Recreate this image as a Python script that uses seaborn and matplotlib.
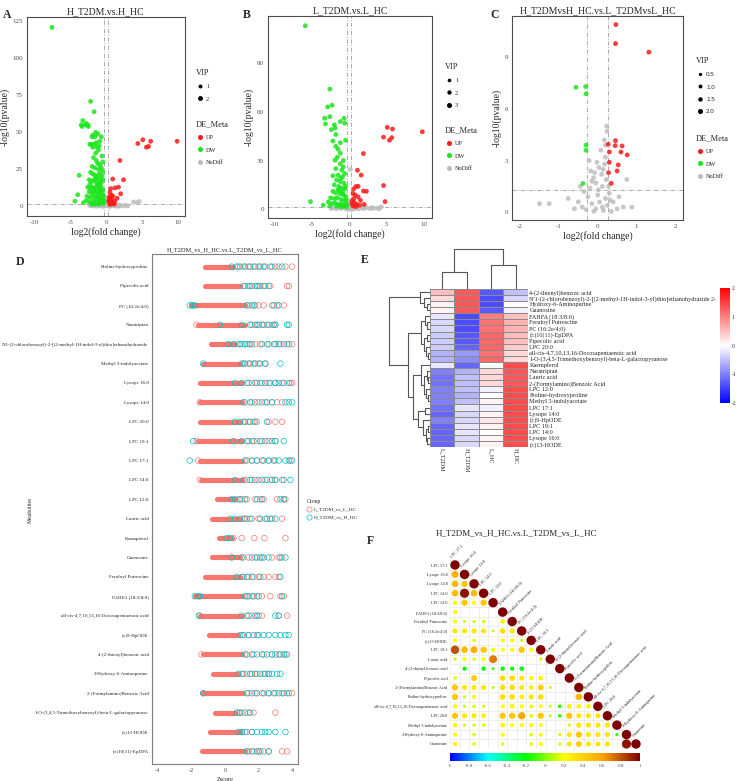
import numpy as np
import pandas as pd
import matplotlib
matplotlib.use("Agg")
import matplotlib.pyplot as plt
import seaborn as sns
from matplotlib.colors import LinearSegmentedColormap, Normalize
from matplotlib.lines import Line2D
from matplotlib.cm import ScalarMappable

# ---------------- data: volcano A (H_T2DM vs H_HC) ----------------
a_up_x = [4.4, 5.1, 5.6, 5.9, 6.2, 9.9, 1.9, 0.9, 2.4, 1.7, 0.6, 1.2, 2.0, 0.5, 0.9, 1.5, 0.6, 0.8, 1.2,
          0.5, 0.7, 1.0, 0.4, 0.6, 0.9, 0.5, 0.7, 0.4, 0.5, 0.8, 1.1, 0.35]
a_up_y = [42.5, 45.0, 40.0, 40.5, 44.0, 44.0, 31.0, 18.5, 18.0, 13.0, 12.0, 12.5, 8.5, 9.5, 7.0, 5.5, 6.0, 4.5, 3.5,
          4.0, 2.5, 2.0, 3.0, 1.5, 1.8, 5.0, 7.5, 6.5, 1.4, 2.8, 1.6, 3.6]
a_dw_x = [-7.6, -2.2, -1.7, -3.3, -3.5, -3.4, -2.8, -2.6, -2.5, -2.9, -1.5, -1.2, -2.0, -1.9, -1.6, -2.3, -2.1,
          -1.7, -1.4, -0.9, -1.0, -1.3, -1.9, -0.7, -1.1, -0.6, -1.5, -1.8, -1.4, -1.2, -0.9, -2.0, -1.6, -1.1,
          -0.7, -0.5, -3.8, -2.2, -1.9, -1.6, -1.3, -1.0, -0.8, -0.6, -2.4, -2.0, -1.7, -1.4, -1.1, -0.7, -0.5,
          -2.3, -0.9, -2.6, -2.2, -1.9, -1.6, -1.3, -1.0, -0.7, -0.5, -2.4, -2.0, -1.7, -1.4, -1.1, -0.8, -0.5,
          -2.7, -2.3, -1.9, -1.5, -1.2, -0.9, -0.6, -0.4, -4.4, -3.2, -2.8, -2.4, -2.1, -1.8, -1.5, -1.2, -0.9,
          -0.6, -0.4, -1.6, -2.0, -1.0, -0.35, -4.0, -1.25, -0.85, -0.55, -1.45, -0.75, -1.05]
a_dw_y = [121.0, 71.0, 64.0, 58.0, 55.0, 54.0, 56.0, 55.0, 54.0, 55.0, 50.0, 49.0, 47.0, 48.0, 47.0, 42.0, 42.0,
          42.0, 43.0, 44.0, 41.0, 40.0, 40.0, 47.0, 38.0, 34.0, 36.0, 33.0, 31.0, 29.0, 28.0, 27.0, 26.0, 25.0,
          26.0, 30.0, 21.0, 23.0, 22.0, 21.0, 20.0, 22.0, 19.0, 21.0, 18.0, 17.0, 18.0, 16.0, 17.0, 16.0, 18.0,
          15.0, 15.0, 13.0, 12.0, 13.0, 12.0, 13.0, 12.0, 13.0, 11.0, 10.0, 9.0, 10.0, 9.0, 10.0, 9.0, 8.0,
          7.0, 6.0, 7.0, 6.0, 7.0, 6.0, 5.0, 7.0, 3.5, 2.5, 4.0, 3.0, 2.0, 4.0, 3.0, 2.0, 4.0,
          3.0, 2.0, 1.6, 1.5, 1.5, 4.0, 7.9, 14.0, 11.0, 24.0, 19.0, 10.5, 5.0]
a_nd_x = [-2.3, -2.0, -1.7, -1.5, -1.2, -1.0, -0.8, -0.6, -0.4, -0.2, 0.0, 0.1, 0.2, 0.3, -0.1, 0.4, 0.6, 0.8,
          1.0, 1.2, 1.4, 1.7, 2.0, 2.4, -0.3, 0.1, 0.0, 0.2, -0.15, 3.8, 4.3, 4.6, 3.0, 2.7, -0.5, 0.5, -1.3,
          1.5, -0.7, 0.9, 1.8, -1.9, 0.3, -0.05]
a_nd_y = [0.5, 1.0, 0.3, 0.8, 1.2, 0.4, 0.9, 0.2, 1.1, 0.6, 0.3, 1.0, 0.5, 1.2, 1.5, 0.2, 0.7, 0.4,
          0.9, 0.3, 0.6, 0.2, 0.5, 0.3, 2.5, 3.0, 4.5, 2.0, 3.5, 3.0, 2.6, 3.3, 0.4, 0.8, 0.05, 0.05, 0.1,
          0.1, 1.8, 1.6, 1.0, 0.2, 2.2, 5.5]

# ---------------- data: volcano B (L_T2DM vs L_HC) ----------------
b_up_x = [5.1, 5.8, 4.6, 5.7, 5.4, 9.8, 1.9, 1.1, 1.6, 4.6, 0.9, 1.2, 1.9, 2.3, 0.5, 0.8, 1.2, 0.6, 0.4,
          0.7, 1.0, 1.4, 0.5, 0.9, 4.8, 0.6, 1.5, 0.35, 2.0]
b_up_y = [50.4, 49.4, 44.4, 44.1, 42.5, 47.7, 34.3, 24.0, 21.0, 14.6, 14.0, 14.1, 11.2, 11.0, 9.7, 8.7, 7.6, 6.5, 5.0,
          4.0, 3.0, 2.5, 2.0, 1.6, 4.7, 12.5, 5.5, 3.5, 3.0]
b_dw_x = [-5.9, -2.6, -2.9, -2.3, -3.3, -2.6, -3.2, -2.0, -1.9, -0.7, -1.2, -0.6, -2.4, -1.8, -2.2, -1.2, -0.5,
          -1.8, -1.5, -1.2, -1.6, -1.9, -1.2, -0.8, -1.8, -1.0, -2.2, -1.5, -0.9, -0.6, -1.7, -1.2, -0.7, -2.0,
          -1.4, -1.0, -0.6, -1.5, -2.2, -1.8, -1.2, -0.8, -0.5, -2.5, -2.0, -1.6, -1.1, -0.7, -0.4, -2.8, -2.3,
          -1.9, -1.4, -1.0, -0.6, -0.4, -5.2, -3.5, -1.7, -1.2, -0.8, -2.6, -0.35, -1.3, -0.9, -0.5, -1.1, -0.8]
b_dw_y = [113.0, 74.0, 63.0, 64.0, 56.0, 57.0, 52.5, 52.0, 50.0, 56.0, 54.0, 53.0, 49.0, 46.0, 42.0, 41.0, 42.5,
          38.7, 37.0, 34.5, 32.0, 30.2, 28.0, 30.0, 25.0, 24.0, 20.6, 21.0, 20.0, 22.0, 18.0, 17.0, 16.0, 15.0,
          14.0, 13.0, 12.5, 12.3, 11.0, 10.0, 9.5, 9.0, 8.0, 7.0, 6.5, 7.0, 6.0, 5.5, 6.0, 4.5, 3.5,
          4.0, 3.0, 3.5, 2.5, 3.5, 4.7, 2.5, 2.0, 1.6, 1.8, 2.0, 1.5, 11.5, 10.5, 14.0, 19.0, 26.0]
b_nd_x = [0.15, -2.4, -2.0, -1.7, -1.4, -1.1, -0.8, -0.5, -0.2, 0.0, 0.2, 0.4, 0.6, 0.9, 1.2, 1.5, 1.9, 2.3,
          2.8, 3.3, 3.8, 4.3, -0.3, 0.1, 0.3, -0.1, 0.05, 0.25, -0.6, 0.7, 1.0, -1.0, 2.0, 3.0, 4.0, -1.5, 0.5,
          -0.15, 0.15]
b_nd_y = [24.5, 0.4, 0.8, 0.3, 1.0, 0.5, 1.2, 0.2, 0.9, 0.4, 1.1, 0.3, 0.8, 0.5, 0.3, 0.7, 0.4, 0.9,
          0.3, 0.6, 0.8, 1.5, 2.5, 3.2, 2.0, 4.5, 1.8, 5.5, 2.2, 1.6, 2.1, 1.8, 1.3, 1.1, 0.3, 2.0, 0.1,
          0.1, 0.05]

# ---------------- data: volcano C ----------------
c_up_x = [0.47, 0.46, 1.32, 0.46, 0.27, 0.45, 0.63, 0.30, 0.60, 0.76, 0.30, 0.53, 0.50, 0.28, 0.35]
c_up_y = [10.9, 9.8, 9.3, 4.16, 3.95, 3.87, 3.85, 3.5, 3.5, 3.33, 2.9, 2.75, 2.4, 2.3, 1.68]
c_dw_x = [-0.56, -0.31, -0.30, -0.30, -0.30, -0.38]
c_dw_y = [7.26, 7.3, 6.88, 3.9, 3.6, 1.67]
c_nd_x = [0.23, 0.24, 0.17, 0.20, -0.22, 0.03, -0.11, -0.15, -0.05, 0.10, 0.18, 0.20, 0.75, 0.12, -0.20,
          -0.35, -1.50, -1.25, -0.76, 0.66, 0.88, -0.50, -0.40, -0.25, -0.15, -0.05, 0.00, 0.05, 0.12, 0.20,
          0.25, 0.30, 0.40, 0.50, -0.10, 0.15, -0.30, 0.35, -0.60, 0.55, 0.02, 0.22, -0.08, 0.28, -0.45,
          0.08, -0.02, 0.14, -0.18, 0.32]
c_nd_y = [5.0, 4.7, 4.2, 3.9, 3.0, 2.6, 2.0, 1.8, 1.7, 2.2, 2.8, 3.2, 1.9, 1.5, 1.4,
          1.2, 0.5, 0.5, 0.8, 0.3, 0.3, 0.6, 0.3, 0.9, 0.5, 0.2, 1.0, 0.6, 0.3, 0.8,
          0.4, 1.1, 0.6, 0.2, 0.05, 0.1, 0.15, 0.05, 0.2, 0.9, 1.3, 1.9, 2.3, 1.5, 1.5,
          3.6, 2.9, 2.5, 2.4, 0.7]

# ---------------- data: panel D (z-scores) ----------------
d_metabolites = ["Proline-hydroxyproline", "Pipecolic acid", "PC (16:2e/4:0)", "Naratriptan",
                 "N'1-(2-chlorobenzoyl)-2-[(2-methyl-1H-indol-3-yl)thio]ethanohydrazide",
                 "Methyl 3-indolyacetate", "Lysope 16:0", "Lysope 14:0", "LPC 20:0", "LPC 19:1", "LPC 17:1",
                 "LPC 14:0", "LPC 12:0", "Lauric acid", "Kaempferol", "Guanosine", "Feruloyl Putrescine",
                 "FAHFA (18:3/8:0)", "all-cis-4,7,10,13,16-Docosapentaenoic acid", "(\u00b1)9-HpODE",
                 "4-(2-thienyl)benzoic acid", "2-Hydroxy-6-Aminopurine", "2-(Formylamino)Benzoic Acid",
                 "1-O-(3,4,5-Trimethoxybenzoyl)-beta-L-galactopyranose", "(\u00b1)13-HODE", "(\u00b1)10(11)-EpDPA"]
d_core_lo = [-1.2, -1.2, -2.0, -1.6, -0.85, -1.3, -1.5, -1.5, -1.5, -1.6, -1.5, -1.45, -0.5, -0.75, -0.35,
             -0.75, -1.2, -1.8, -1.5, -0.95, -1.3, -0.7, -1.3, -0.6, -0.9, -1.35]
d_core_hi = [0.5, 0.9, 1.2, 1.2, 0.6, 0.9, 1.0, 1.0, 0.9, 1.0, 1.0, 1.0, 0.6, 0.9, 0.4,
             0.9, 0.9, 1.0, 1.0, 0.8, 1.0, 0.8, 1.1, 0.6, 0.9, 1.2]
d_red = [[0.8, 1.1, 1.4, 1.7, 2.0, 2.4, 2.8, 3.2, 3.6, 4.0],
         [1.2, 1.5, 1.8, 2.1, 2.4, 2.7, 3.7, 3.8],
         [1.4, 1.7, 2.0, 2.3, 2.8, 3.1, 3.5],
         [-1.7, 1.6, 1.9, 2.2, 2.5, 2.8, 3.0],
         [0.9, 1.2, 1.5, 1.8, 2.1, 2.5, 2.9, 3.3, 3.7, 4.0],
         [1.1, 1.4, 1.7, 2.0, 2.4],
         [1.3, 1.6, 1.9, 2.2, 2.6, 3.0, 3.4, 3.9, 4.0],
         [-1.5, 1.2, 1.6, 2.0, 2.4, 2.8, 3.1, 3.4],
         [1.1, 1.4, 1.7, 1.9, 2.6, 3.0, 3.4],
         [-1.7, 1.3, 1.6, 1.9, 2.2, 2.6, 3.0],
         [-1.6, 1.3, 1.6, 1.9, 2.2, 2.6, 3.0, 3.9],
         [-1.5, 1.3, 1.6, 2.0, 2.4, 2.8, 3.0, 3.4],
         [0.8, 1.0, 1.3, 1.8, 2.1, 2.3, 3.1, 3.5, 3.6],
         [1.1, 1.3, 1.6, 2.0, 2.4, 2.8, 3.4],
         [0.5, 1.0, 1.75, 2.35, 3.6],
         [1.1, 1.4, 1.8, 2.2, 2.8, 3.2, 3.4],
         [1.1, 1.4, 1.7, 2.0, 2.3, 2.6, 3.0, 3.2],
         [1.3, 1.6, 1.9, 2.2, 2.7, 3.3, 3.5],
         [-1.5, 1.3, 1.6, 1.9, 2.2, 3.2, 3.7],
         [1.0, 1.4, 1.9],
         [-1.4, 1.3, 1.7, 2.3, 2.8, 3.2, 3.6],
         [1.0, 1.3, 1.6, 1.9, 2.3, 2.6],
         [-1.3, 1.4, 1.8, 2.2, 2.6, 3.0, 3.4, 3.7, 4.0],
         [0.8, 1.0, 1.4, 1.7, 3.0],
         [1.0, 1.3, 1.6],
         [1.4, 1.7, 2.0, 2.3, 2.6, 3.4, 3.7]]
d_cyan = [[0.4, 0.7, 0.9, 1.2, 1.5, 1.8, 2.1, 2.3, 2.7, 3.0, 3.4],
          [1.1, 1.4, 1.6, 1.9, 2.0, 2.3, 2.6],
          [-2.1, -1.95, -1.8, 1.3, 1.6, 1.8, 2.9, 3.2],
          [-0.3, 1.0, 1.5, 1.8, 2.0, 2.3, 2.6, 2.9, 3.0, 3.7, 3.8],
          [0.2, 0.5, 0.8, 1.0, 1.2, 1.4, 1.6, 2.2, 2.6, 3.0, 3.2, 3.5, 3.8],
          [-1.3, 1.0, 1.2, 1.5, 1.8, 2.1, 2.4, 3.3],
          [0.6, 1.0, 1.4, 1.8, 2.1, 2.4, 2.7, 3.0, 3.2, 3.5, 3.8],
          [1.1, 1.5, 1.8, 2.2, 2.5, 2.8, 3.6, 3.8, 4.0],
          [0.6, 0.9, 1.2, 1.5, 1.8, 2.5],
          [-1.9, 0.5, 1.0, 1.4, 1.7, 2.1, 2.4, 2.8, 3.0, 3.5],
          [-2.1, 1.2, 1.6, 1.9, 2.3, 2.6, 2.9, 3.2, 3.6, 3.8, 4.0],
          [0.6, 1.1, 1.5, 1.8, 2.2, 2.5, 2.8, 3.0, 3.5, 3.9],
          [0.4, 0.6, 0.9, 1.2, 1.9, 2.2, 3.3, 3.5],
          [0.3, 0.6, 0.9, 1.2, 1.5, 2.1, 2.5, 2.7, 3.0],
          [0.1, 0.3],
          [0.4, 1.0, 1.6, 1.9, 2.1, 2.3, 2.6, 3.3, 3.6],
          [0.7, 1.0, 1.3, 1.6, 2.1, 3.3],
          [-1.8, -1.6, -1.5, 1.2, 1.4, 1.7, 2.0, 3.4],
          [-1.55, 1.0, 1.4, 1.8, 2.0, 3.0, 3.2],
          [0.9, 1.1, 1.4, 1.7, 2.0, 2.3, 2.6, 3.0, 3.3, 3.6, 3.8],
          [1.2, 1.6, 1.9, 2.2, 2.5, 2.8, 3.0, 3.3, 3.5, 3.7],
          [0.8, 1.1, 1.5, 1.8, 2.1, 2.4, 2.6, 2.8, 3.1, 3.3],
          [-1.3, 1.3, 1.6, 1.9, 2.3, 2.6, 2.9, 3.2, 3.5, 3.8],
          [0.7, 0.9, 1.2, 1.5],
          [0.8, 1.0, 1.2, 1.6, 1.9, 2.2, 2.4, 2.6, 3.0, 3.6],
          [1.3, 1.6, 1.9, 2.1, 2.6]]

# ---------------- data: panel E (heatmap) ----------------
e_columns = ["L_T2DM", "H_T2DM", "L_HC", "H_HC"]
e_rows = ["4-(2-thienyl)benzoic acid",
          "N'1-(2-chlorobenzoyl)-2-[(2-methyl-1H-indol-3-yl)thio]ethanohydrazide 2-",
          "Hydroxy-6-Aminopurine", "Guanosine", "FAHFA (18:3/8:0)", "Feruloyl Putrescine", "PC (16:2e/4:0)",
          "(\u00b1)10(11)-EpDPA", "Pipecolic acid", "LPC 20:0", "all-cis-4,7,10,13,16-Docosapentaenoic acid",
          "1-O-(3,4,5-Trimethoxybenzoyl)-beta-L-galactopyranose", "Kaempferol", "Naratriptan", "Lauric acid",
          "2-(Formylamino)Benzoic Acid", "LPC 12:0", "Proline-hydroxyproline", "Methyl 3-indolyacetate",
          "LPC 17:1", "Lysope 14:0", "(\u00b1)9-HpODE", "LPC 19:1", "LPC 14:0", "Lysope 16:0", "(\u00b1)13-HODE"]
e_values = [[0.5, 1.3, -1.3, -0.5], [0.3, 1.3, -1.4, -0.3], [0.1, 1.3, -1.4, 0.0], [0.1, 1.3, -1.3, -0.1],
            [-0.2, -1.4, 1.0, 0.5], [-0.3, -1.4, 1.1, 0.6], [-0.3, -1.4, 1.1, 0.6], [-0.4, -1.3, 1.2, 0.5],
            [-0.4, -1.3, 1.2, 0.5], [-0.4, -1.2, 1.2, 0.4], [-0.6, -0.8, 1.1, 0.3], [-0.6, -0.9, 1.2, 0.3],
            [-0.2, -1.2, 0.0, 1.4], [-1.0, -0.6, 0.3, 1.3], [-1.1, -0.5, 0.3, 1.3], [-1.1, -0.5, 0.3, 1.3],
            [-1.0, -0.5, -0.1, 1.4], [-1.0, -0.6, 0.0, 1.4], [-1.0, -0.5, 0.1, 1.4], [-1.1, -0.2, -0.1, 1.4],
            [-1.2, -0.3, 0.1, 1.4], [-1.0, -0.3, 0.2, 1.4], [-1.2, -0.2, 0.1, 1.4], [-1.2, -0.2, 0.0, 1.4],
            [-1.2, -0.3, 0.1, 1.4], [-1.2, -0.3, 0.1, 1.4]]
# cluster trees: (height, left, right) or leaf index
e_row_tree = (40, (10, 0, (6, 1, (3, 2, 3))),
              (21, (9, (5, 4, (3, 5, 6)), (6, (3, 7, 8), (4, 9, (2, 10, 11)))),
               (17, (9, 12, (6, (3, 13, (2, 14, 15)), (4, 16, (2, 17, 18)))),
                (12, (5, 19, 20), (7, 21, (4, (2, 22, 23), (3, 24, 25)))))))
e_col_tree = (40, (17, 0, 1), (24, 2, 3))

# ---------------- data: panel F (correlation, lower triangle) ----------------
f_names = ["LPC 17:1", "Lysope 16:0", "Lysope 14:0", "LPC 14:0", "LPC 12:0", "FAHFA (18:3/8:0)",
           "Feruloyl Putrescine", "PC (16:2e/4:0)", "(\u00b1)13-HODE", "LPC 19:1", "Lauric acid",
           "4-(2-thienyl)benzoic acid", "Pipecolic acid", "2-(Formylamino)Benzoic Acid", "Proline-hydroxyproline",
           "all-cis-4,7,10,13,16-Docosapentaenoic acid", "LPC 20:0", "Methyl 3-indolyacetate",
           "2-Hydroxy-6-Aminopurine", "Guanosine"]
f_corr = [[1],
          [0.55, 1],
          [0.5, 0.45, 1],
          [0.5, 0.95, 0.5, 1],
          [0.22, 0.45, 0.2, 0.45, 1],
          [0.2, 0, 0, 0, 0, 1],
          [0.2, 0.12, 0.12, 0.12, 0, 0.25, 1],
          [0.3, 0.3, 0.3, 0.3, 0.1, 0.35, 0.3, 1],
          [0.2, 0, 0.15, 0, 0, 0.2, 0.2, 0.12, 1],
          [0.8, 0.5, 0.55, 0.45, 0.2, 0.2, 0.2, 0.45, 0.2, 1],
          [0.12, 0.2, 0.12, 0.2, 0.7, 0, 0, 0, 0, 0.12, 1],
          [0, -0.2, 0, -0.22, -0.1, -0.22, -0.2, -0.25, 0, 0, 0, 1],
          [0.15, 0, 0.4, 0, 0, 0.35, 0.35, 0.3, 0.2, 0.25, 0, 0, 1],
          [0.45, 0.3, 0.3, 0.3, 0.1, 0.35, 0.35, 0.3, 0.25, 0.4, 0.1, 0, 0, 1],
          [0.45, 0.12, 0.2, 0, 0, 0.35, 0.35, 0.25, 0.3, 0.35, 0, 0, 0, 0.5, 1],
          [0.2, 0.12, 0.15, 0.1, 0, 0.2, 0.25, 0.2, 0.15, 0.2, 0.1, -0.15, 0.25, 0.25, 0.25, 1],
          [0.45, 0.3, 0.3, 0.25, 0, 0.45, 0.45, 0.6, 0.15, 0.45, 0.1, -0.15, 0.45, 0.3, 0.3, 0.3, 1],
          [0.25, 0.12, 0.12, 0.12, 0, 0.25, 0.2, 0.2, 0.2, 0.2, 0, 0, 0.12, 0.3, 0.3, 0.3, 0.3, 1],
          [0.2, 0, 0.15, 0, 0, 0.2, 0, 0, 0.15, 0.2, 0, 0.12, 0.3, 0.45, 0.3, 0.3, 0.3, -0.12, 1],
          [0.2, 0, 0.15, 0, 0, 0.15, 0, 0, 0.15, 0.2, 0, 0.12, 0.3, 0.4, 0.3, 0.3, 0.3, 0, 0.95, 1]]

# ---------------- layout ----------------
W, H = 738, 781
sns.set_theme(style="white")
plt.rcParams['font.family'] = ['Liberation Serif', 'DejaVu Serif']
plt.rcParams['axes.unicode_minus'] = False
fig = plt.figure(figsize=(W / 100, H / 100), dpi=100)


def px_axes(x0, y0, x1, y1):
    return fig.add_axes([x0 / W, 1 - y1 / H, (x1 - x0) / W, (y1 - y0) / H])


def ftext(x, y, s, **kw):
    fig.text(x / W, 1 - y / H, s, **kw)


GREY = "#4D4D4D"
de_colors = {"UP": "#FF1A1A", "DW": "#1AE51A", "NoDiff": "#BDBDBD"}


def volcano(box, title, up, dw, nd, xlim, ylim, xticks, yticks, leg_x, vip_y, vip_labels, vip_ms, de_y, vip_font):
    ax = px_axes(*box)
    frames = []
    for lab, (xs, ys) in zip(["NoDiff", "DW", "UP"], [nd, dw, up]):
        frames.append(pd.DataFrame({"log2fc": xs, "logp": ys, "DE_Meta": lab}))
    df = pd.concat(frames, ignore_index=True)
    sns.scatterplot(data=df, x="log2fc", y="logp", hue="DE_Meta", palette=de_colors, s=12,
                    linewidth=0, alpha=0.85, legend=False, ax=ax)
    dash = (0, (5, 2, 1, 2))
    ax.axhline(1.3, color="#9E9E9E", lw=0.6, ls=dash, zorder=0)
    for v in (-0.263, 0.263):
        ax.axvline(v, color="#9E9E9E", lw=0.6, ls=dash, zorder=0)
    ax.set_xlim(*xlim)
    ax.set_ylim(*ylim)
    ax.set_xticks(xticks)
    ax.set_yticks(yticks)
    ax.tick_params(length=2, width=0.5, labelsize=5, colors=GREY, pad=1)
    for sp in ax.spines.values():
        sp.set_color(GREY)
        sp.set_linewidth(0.8)
    ax.set_xlabel("log2(fold change)", fontsize=7, labelpad=1)
    ax.set_ylabel("-log10(pvalue)", fontsize=7, labelpad=2)
    ax.set_title(title, fontsize=7, pad=2)
    # legends
    h_vip = [Line2D([], [], marker="o", ls="", color="black", markersize=m) for m in vip_ms]
    lg = fig.legend(h_vip, vip_labels, title="VIP", loc="upper left", bbox_to_anchor=(leg_x / W, 1 - vip_y / H),
                    frameon=False, fontsize=4.5, title_fontsize=6, handletextpad=0.4, labelspacing=1.1,
                    borderpad=0, handlelength=1.2, prop={"size": 4.5, "family": vip_font})
    lg._legend_box.align = "left"
    h_de = [Line2D([], [], marker="o", ls="", color=de_colors[k], markersize=2.6) for k in ["UP", "DW", "NoDiff"]]
    lg2 = fig.legend(h_de, ["UP", "DW", "NoDiff"], title="DE_Meta", loc="upper left",
                     bbox_to_anchor=(leg_x / W, 1 - de_y / H), frameon=False, fontsize=4.5, title_fontsize=6,
                     handletextpad=0.4, labelspacing=1.1, borderpad=0, handlelength=1.2)
    lg2._legend_box.align = "left"
    return ax


volcano((27, 17, 185, 216), "H_T2DM.vs.H_HC", (a_up_x, a_up_y), (a_dw_x, a_dw_y), (a_nd_x, a_nd_y),
        (-11.1, 11.0), (-6.5, 128), [-10, -5, 0, 5, 10], [0, 25, 50, 75, 100, 125],
        193, 66, ["1", "2"], [1.8, 2.5], 117, "Liberation Serif")
volcano((268, 16, 432, 218), "L_T2DM.vs.L_HC", (b_up_x, b_up_y), (b_dw_x, b_dw_y), (b_nd_x, b_nd_y),
        (-10.9, 11.1), (-5.4, 119), [-10, -5, 0, 5, 10], [0, 30, 60, 90],
        442, 60, ["1", "2", "3"], [1.6, 2.1, 2.6], 123, "Liberation Serif")
volcano((512, 16, 683, 220), "H_T2DMvsH_HC.vs.L_T2DMvsL_HC", (c_up_x, c_up_y), (c_dw_x, c_dw_y),
        (c_nd_x, c_nd_y), (-2.21, 2.2), (-0.45, 11.4), [-2, -1, 0, 1, 2], [0, 3, 6, 9],
        693, 54, ["0.5", "1.0", "1.5", "2.0"], [1.4, 1.8, 2.2, 2.6], 131, "Liberation Sans")

# ---------------- panel D ----------------
ax_d = px_axes(152, 254, 298, 764)
recs = []
for i, name in enumerate(d_metabolites):
    recs += [(i, v, "L_T2DM_vs_L_HC") for v in d_red[i]]
    recs += [(i, v, "H_T2DM_vs_H_HC") for v in d_cyan[i]]
df_d = pd.DataFrame(recs, columns=["pos", "Zscore", "Group"])
salmon, teal = "#F8766D", "#00BFC4"
for i in range(len(d_metabolites)):
    ax_d.plot([d_core_lo[i], d_core_hi[i]], [i, i], color=salmon, lw=3.7, solid_capstyle="round", zorder=1)
sns.scatterplot(data=df_d, x="Zscore", y="pos", hue="Group", palette={"L_T2DM_vs_L_HC": salmon,
                "H_T2DM_vs_H_HC": teal}, s=16, linewidth=0.5, legend=False, ax=ax_d, zorder=2)
coll = ax_d.collections[-1]
coll.set_edgecolors(coll.get_facecolors())
coll.set_facecolors("none")
ax_d.set_ylim(len(d_metabolites) - 0.35, -0.65)
ax_d.set_xlim(-4.35, 4.35)
ax_d.set_yticks(range(len(d_metabolites)))
ax_d.set_yticklabels(d_metabolites, fontsize=3.6)
ax_d.set_xticks([-4, -2, 0, 2, 4])
ax_d.tick_params(axis="x", length=2, width=0.5, labelsize=4.5, colors=GREY, pad=1)
ax_d.tick_params(axis="y", length=1.5, width=0.5, pad=1, colors=GREY)
for t in ax_d.get_yticklabels():
    t.set_color("#222222")
for sp in ax_d.spines.values():
    sp.set_color("#7F7F7F")
    sp.set_linewidth(0.8)
ax_d.set_xlabel("Zscore", fontsize=4.5, labelpad=3)
ax_d.set_ylabel("")
ax_d.set_title("H_T2DM_vs_H_HC.vs.L_T2DM_vs_L_HC", fontsize=4.6, pad=2)
ftext(30, 510, "Metabolites", fontsize=4, rotation=90, ha="center", va="center")
h_grp = [Line2D([], [], marker="o", ls="", markerfacecolor="none", markeredgecolor=c, markersize=3.8,
                markeredgewidth=0.5) for c in (salmon, teal)]
lg = fig.legend(h_grp, ["L_T2DM_vs_L_HC", "H_T2DM_vs_H_HC"], title="Group", loc="upper left",
                bbox_to_anchor=(304 / W, 1 - 496 / H), frameon=False, fontsize=3.8, title_fontsize=4,
                handletextpad=0.3, labelspacing=0.6, borderpad=0, handlelength=1.0)
lg._legend_box.align = "left"

# ---------------- panel E ----------------
cmap_e = LinearSegmentedColormap.from_list("bwr_e", ["#0000FF", "#FFFFFF", "#FF0000"])
ax_e = px_axes(430, 289, 528, 447)
cax_e = px_axes(720, 288, 730, 403)
df_e = pd.DataFrame(e_values, index=e_rows, columns=e_columns)
sns.heatmap(df_e, ax=ax_e, cmap=cmap_e, vmin=-2, vmax=2, linewidths=0.4, linecolor="#8C8C8C",
            cbar_ax=cax_e, xticklabels=True, yticklabels=True)
ax_e.yaxis.tick_right()
ax_e.set_yticklabels(e_rows, rotation=0, fontsize=4.4)
ax_e.set_xticklabels(e_columns, rotation=270, fontsize=4.4)
ax_e.tick_params(length=0, pad=1)
ax_e.set_xlabel("")
ax_e.set_ylabel("")
cax_e.tick_params(labelsize=4, length=0, pad=1)
cax_e.set_yticks([-2, -1, 0, 1, 2])
cax_e.set_yticklabels(["-2", "-1", "0", "1", "2"])
for sp in cax_e.spines.values():
    sp.set_visible(False)


def tree_segments(node, pos):
    if isinstance(node, int):
        return pos[node], 0.0, []
    h, left, right = node
    xl, hl, sl = tree_segments(left, pos)
    xr, hr, sr = tree_segments(right, pos)
    return (xl + xr) / 2, h, sl + sr + [([xl, xl, xr, xr], [hl, h, h, hr])]


ax_rd = px_axes(388, 289, 430, 447)
_, _, segs = tree_segments(e_row_tree, [i + 0.5 for i in range(len(e_rows))])
for ys, hs in segs:
    ax_rd.plot(hs, ys, color="#555555", lw=0.8, solid_capstyle="butt")
ax_rd.set_ylim(len(e_rows), 0)
ax_rd.set_xlim(41, 0)
ax_rd.axis("off")

ax_cd = px_axes(430, 248, 528, 289)
_, _, segs = tree_segments(e_col_tree, [i + 0.5 for i in range(len(e_columns))])
for xs, hs in segs:
    ax_cd.plot(xs, hs, color="#555555", lw=0.8, solid_capstyle="butt")
ax_cd.set_xlim(0, len(e_columns))
ax_cd.set_ylim(0, 41)
ax_cd.axis("off")

# ---------------- panel F ----------------
cmap_f = LinearSegmentedColormap.from_list("corr_f", [(0.0, "#0000FF"), (0.2, "#00FFFF"), (0.4, "#00FF00"),
                                                     (0.6, "#FFFF00"), (0.8, "#FFA500"), (1.0, "#7F0000")])
n = len(f_names)
ax_f = px_axes(450.25, 560.3, 640.75, 748.7)
frec = []
for i, row in enumerate(f_corr):
    for j, r in enumerate(row):
        if r != 0:
            frec.append((j + 1, i + 1, r, abs(r)))
df_f = pd.DataFrame(frec, columns=["col", "row", "r", "absr"])
for i in range(1, n + 1):
    ax_f.plot([0.5, i + 0.5], [i - 0.5, i - 0.5], color="#EBEBEB", lw=0.4, zorder=0)
    ax_f.plot([0.5, i + 0.5], [i + 0.5, i + 0.5], color="#EBEBEB", lw=0.4, zorder=0)
    ax_f.plot([i - 0.5, i - 0.5], [i - 0.5, n + 0.5], color="#EBEBEB", lw=0.4, zorder=0)
    ax_f.plot([i + 0.5, i + 0.5], [i - 0.5, n + 0.5], color="#EBEBEB", lw=0.4, zorder=0)
sns.scatterplot(data=df_f, x="col", y="row", hue="r", palette=cmap_f, hue_norm=(-1, 1), size="absr",
                sizes=(0, 46), size_norm=(0, 1), linewidth=0, legend=False, ax=ax_f, zorder=2)
ax_f.set_xlim(0.5, n + 0.5)
ax_f.set_ylim(n + 0.5, 0.5)
ax_f.set_yticks(range(1, n + 1))
ax_f.set_yticklabels(f_names, fontsize=3.1)
ax_f.set_xticks([])
ax_f.tick_params(axis="y", length=0, pad=2)
ax_f.set_xlabel("")
ax_f.set_ylabel("")
for sp in ax_f.spines.values():
    sp.set_visible(False)
for j, name in enumerate(f_names, start=1):
    ax_f.text(j - 0.2, j - 0.7, name, rotation=45, fontsize=3.1, ha="left", va="bottom",
              rotation_mode="anchor", clip_on=False)
cax_f = px_axes(450, 753, 640, 761)
cb = fig.colorbar(ScalarMappable(norm=Normalize(-1, 1), cmap=cmap_f), cax=cax_f, orientation="horizontal")
cb.set_ticks([-1, -0.8, -0.6, -0.4, -0.2, 0, 0.2, 0.4, 0.6, 0.8, 1])
cb.set_ticklabels(["-1", "-0.8", "-0.6", "-0.4", "-0.2", "0", "0.2", "0.4", "0.6", "0.8", "1"])
cb.outline.set_visible(False)
cax_f.tick_params(labelsize=3.6, length=0, pad=2, colors=GREY)
ftext(517, 533, "H_T2DM_vs_H_HC.vs.L_T2DM_vs_L_HC", fontsize=6.5, ha="center", va="center")

# ---------------- panel letters ----------------
for x, y, s in [(7, 15, "A"), (247, 15, "B"), (495, 15, "C"), (20, 262, "D"), (365, 260, "E"), (370, 541, "F")]:
    ftext(x, y, s, fontsize=8.5, fontweight="bold", ha="center", va="center")

fig.savefig("out.png", dpi=100)
